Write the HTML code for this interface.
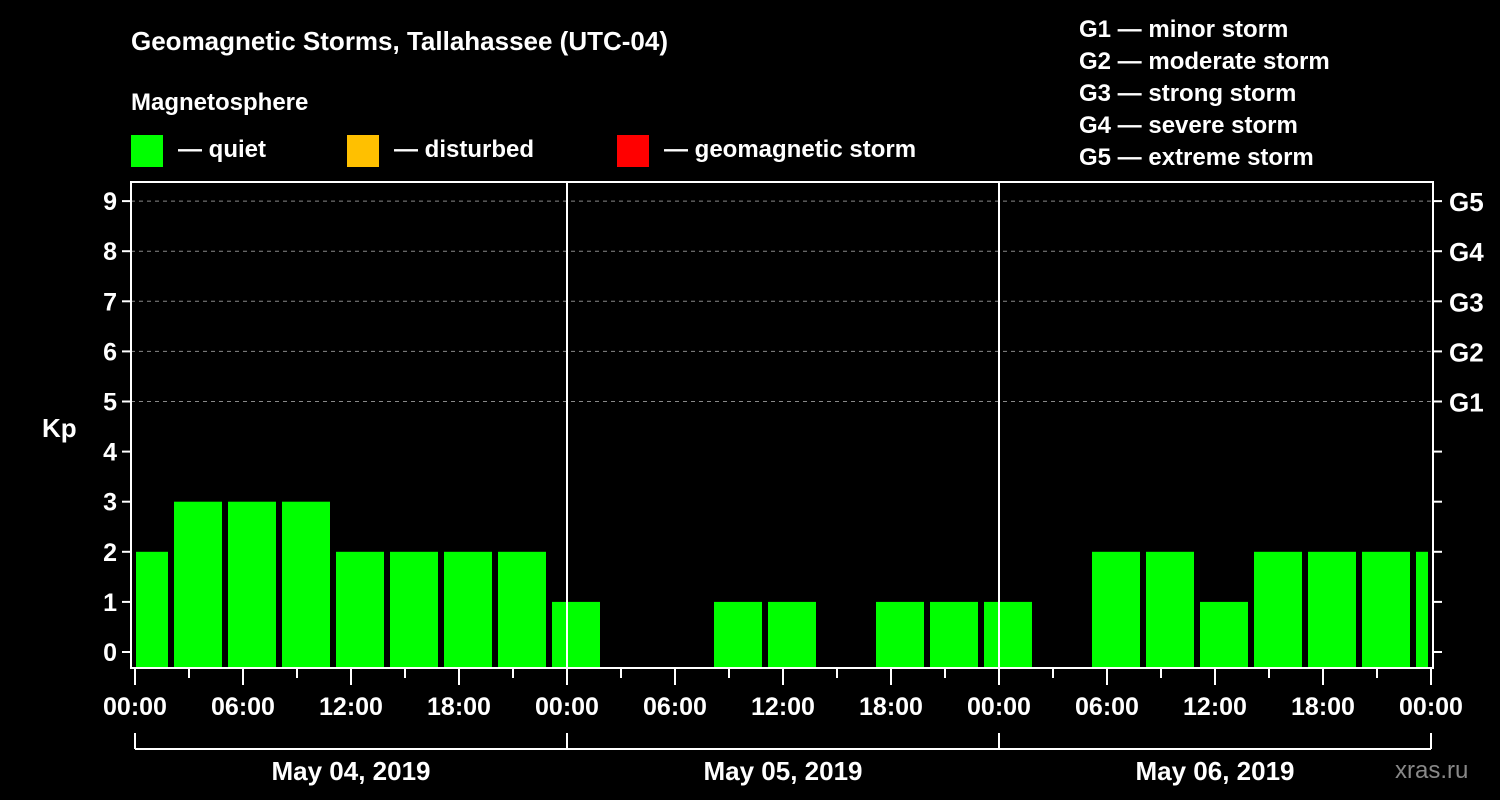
<!DOCTYPE html>
<html><head><meta charset="utf-8"><style>
html,body{margin:0;padding:0;background:#000;}
svg{display:block;font-family:"Liberation Sans",Arial,sans-serif;font-weight:bold;}
</style></head><body>
<svg id="chart" width="1500" height="800" viewBox="0 0 1500 800">
<rect width="1500" height="800" fill="#000"/>
<text x="131" y="50" fill="#fff" font-size="26">Geomagnetic Storms, Tallahassee (UTC-04)</text>
<text x="131" y="110" fill="#fff" font-size="24">Magnetosphere</text>
<g><rect x="131" y="135" width="32" height="32" fill="#00ff00"/><text x="178" y="157" fill="#fff" font-size="24">— quiet</text></g>
<g><rect x="347" y="135" width="32" height="32" fill="#ffc000"/><text x="394" y="157" fill="#fff" font-size="24">— disturbed</text></g>
<g><rect x="617" y="135" width="32" height="32" fill="#ff0000"/><text x="664" y="157" fill="#fff" font-size="24">— geomagnetic storm</text></g>
<g fill="#fff" font-size="24">
<text x="1079" y="37">G1 — minor storm</text>
<text x="1079" y="69">G2 — moderate storm</text>
<text x="1079" y="101">G3 — strong storm</text>
<text x="1079" y="133">G4 — severe storm</text>
<text x="1079" y="165">G5 — extreme storm</text>
</g>
<text x="42" y="437" fill="#fff" font-size="26">Kp</text>
<text x="1395" y="778" fill="#888" font-size="24" font-weight="normal">xras.ru</text>
<g id="grid"></g><g id="bars"></g><g id="axes"></g>
</svg>
<script>
const kpValues=[2,3,3,3,2,2,2,2,1,0,0,1,1,0,1,1,1,0,2,2,1,2,2,2,2];
const binStartHour=-1; // first bin starts at 23:00 of previous day (local)
const yTicks=[0,1,2,3,4,5,6,7,8,9];
const gLabels=["G1","G2","G3","G4","G5"];
const xTickLabels=["00:00","06:00","12:00","18:00","00:00","06:00","12:00","18:00","00:00","06:00","12:00","18:00","00:00"];
const dateLabels=["May 04, 2019","May 05, 2019","May 06, 2019"];
const NS="http://www.w3.org/2000/svg";
const X0=135,X1=1431,HOURS=72,L=131,R=1433,T=182,B=668;
const xs=h=>X0+(h/HOURS)*(X1-X0);
const ys=v=>652-v*50.1;
function mk(p,tag,a){const e=document.createElementNS(NS,tag);for(const k in a)e.setAttribute(k,a[k]);p.appendChild(e);return e;}
const grid=document.getElementById('grid'),bars=document.getElementById('bars'),axes=document.getElementById('axes');
yTicks.forEach(v=>{if(v>=5){const g=mk(grid,'line',{x1:L,x2:R,y1:ys(v),y2:ys(v),stroke:'#888','stroke-dasharray':'4,4','stroke-width':1});

}});
kpValues.forEach((v,i)=>{if(v<=0)return;const h0=Math.max(0,binStartHour+i*3),h1=Math.min(HOURS,binStartHour+i*3+3);
let x0=xs(h0)+(h0===binStartHour+i*3?3:1),x1=xs(h1)-(h1===binStartHour+i*3+3?3:3);
const col=v>=5?'#ff0000':(v>=4?'#ffc000':'#00ff00');
const r=mk(bars,'rect',{x:x0,y:ys(v),width:x1-x0,height:B-ys(v),fill:col});

});
const fr=mk(axes,'rect',{x:L,y:T,width:R-L,height:B-T,fill:'none',stroke:'#fff','stroke-width':2});


[1,2].forEach(d=>{const l=mk(axes,'line',{x1:xs(d*24),x2:xs(d*24),y1:T,y2:B,stroke:'#fff','stroke-width':2});

});
yTicks.forEach(v=>{const y=ys(v);
mk(axes,'line',{x1:L-9,x2:L,y1:y,y2:y,stroke:'#fff','stroke-width':2});
mk(axes,'line',{x1:R,x2:R+9,y1:y,y2:y,stroke:'#fff','stroke-width':2});
const t=mk(axes,'text',{x:L-14,y:y+9,fill:'#fff','font-size':25,'text-anchor':'end'});t.textContent=v;

});
gLabels.forEach((g,i)=>{const t=mk(axes,'text',{x:1449,y:ys(5+i)+10,fill:'#fff','font-size':26});t.textContent=g;

});
for(let h=0;h<=HOURS;h+=3){const major=h%6===0;mk(axes,'line',{x1:xs(h),x2:xs(h),y1:B,y2:B+(major?17:10),stroke:'#fff','stroke-width':2});}
xTickLabels.forEach((s,i)=>{const t=mk(axes,'text',{x:xs(i*6),y:715,fill:'#fff','font-size':25,'text-anchor':'middle'});t.textContent=s;

});
mk(axes,'line',{x1:X0,x2:X1,y1:749,y2:749,stroke:'#fff','stroke-width':2});
for(let d=0;d<=3;d++)mk(axes,'line',{x1:xs(d*24),x2:xs(d*24),y1:733,y2:749,stroke:'#fff','stroke-width':2});
dateLabels.forEach((s,i)=>{const t=mk(axes,'text',{x:xs(i*24+12),y:780,fill:'#fff','font-size':26,'text-anchor':'middle'});t.textContent=s;

});
</script>
</body></html>
